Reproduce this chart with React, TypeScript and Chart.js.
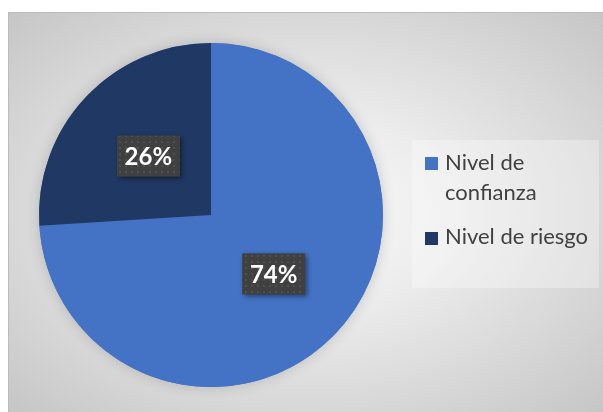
import React, { useEffect, useRef } from "react";
import { Chart, registerables } from "chart.js";
Chart.register(...registerables);

const categories = ["Nivel de confianza", "Nivel de riesgo"];
const legendLines = [["Nivel de", "confianza"], ["Nivel de riesgo"]];
const values = [74, 26];
const valueLabels = ["74%", "26%"];
const colors = ["#4472C4", "#203864"];

const W = 594;
const H = 399;

function makePattern(ctx: CanvasRenderingContext2D) {
  const c = document.createElement("canvas");
  c.width = 6;
  c.height = 6;
  const p = c.getContext("2d")!;
  p.fillStyle = "#404040";
  p.fillRect(0, 0, 6, 6);
  p.fillStyle = "#505050";
  p.fillRect(2, 2, 2, 2);
  return ctx.createPattern(c, "repeat");
}

const shadowPlugin = {
  id: "pieShadow",
  beforeDatasetsDraw(chart: any) {
    const arc = chart.getDatasetMeta(0).data[0];
    if (!arc) return;
    const ctx = chart.ctx;
    ctx.save();
    ctx.shadowColor = "rgba(0,0,0,0.18)";
    ctx.shadowBlur = 14;
    ctx.beginPath();
    ctx.arc(arc.x, arc.y, arc.outerRadius, 0, Math.PI * 2);
    ctx.fillStyle = colors[0];
    ctx.fill();
    ctx.restore();
  },
};

const labelPlugin = {
  id: "valueLabels",
  afterDatasetsDraw(chart: any) {
    const ctx = chart.ctx as CanvasRenderingContext2D;
    const pattern = makePattern(ctx);
    chart.getDatasetMeta(0).data.forEach((arc: any, i: number) => {
      const pt = arc.getCenterPoint();
      const bw = 63;
      const bh = 41;
      ctx.save();
      ctx.shadowColor = "rgba(0,0,0,0.45)";
      ctx.shadowBlur = 5;
      ctx.shadowOffsetX = 2;
      ctx.shadowOffsetY = 2;
      ctx.fillStyle = pattern || "#404040";
      ctx.fillRect(pt.x - bw / 2, pt.y - bh / 2, bw, bh);
      ctx.restore();
      ctx.save();
      ctx.fillStyle = "#ffffff";
      ctx.font = "bold 24px Lato, 'Open Sans', sans-serif";
      ctx.textAlign = "center";
      ctx.textBaseline = "middle";
      ctx.fillText(valueLabels[i], pt.x, pt.y + 1);
      ctx.restore();
    });
  },
};

const legendPlugin = {
  id: "customLegend",
  afterDraw(chart: any) {
    const ctx = chart.ctx as CanvasRenderingContext2D;
    ctx.save();
    ctx.fillStyle = "rgba(255,255,255,0.3)";
    ctx.fillRect(403, 127, 187, 148);
    ctx.font = "22px Lato, 'Open Sans', sans-serif";
    ctx.textBaseline = "middle";
    const markerY = [144, 219];
    const textY = [[150, 180], [224]];
    categories.forEach((_, i) => {
      ctx.fillStyle = colors[i];
      ctx.fillRect(416, markerY[i], 13, 13);
      ctx.fillStyle = "#404040";
      legendLines[i].forEach((line, j) => {
        ctx.fillText(line, 436, textY[i][j]);
      });
    });
    ctx.restore();
  },
};

export default function App() {
  const ref = useRef<HTMLCanvasElement>(null);
  useEffect(() => {
    const chart = new Chart(ref.current!, {
      type: "pie",
      data: {
        labels: categories,
        datasets: [
          {
            data: values,
            backgroundColor: colors,
            borderWidth: 0,
          },
        ],
      },
      options: {
        animation: false,
        responsive: false,
        maintainAspectRatio: false,
        devicePixelRatio: 1,
        layout: { padding: { left: 30, top: 30, right: 220, bottom: 25 } },
        plugins: {
          legend: { display: false },
          tooltip: { enabled: false },
        },
      },
      plugins: [shadowPlugin, labelPlugin, legendPlugin],
    });
    return () => chart.destroy();
  }, []);
  return (
    <div
      style={{
        position: "fixed",
        left: 8,
        top: 12,
        width: W,
        height: H,
        borderLeft: "1px solid #bcbcbc",
        borderTop: "1px solid #bcbcbc",
        background:
          "radial-gradient(ellipse farthest-corner at 50% 50%, #fbfbfb 0%, #ececec 35%, #c6c6c6 100%)",
      }}
    >
      <canvas ref={ref} width={W} height={H} style={{ display: "block", width: W, height: H }} />
    </div>
  );
}
